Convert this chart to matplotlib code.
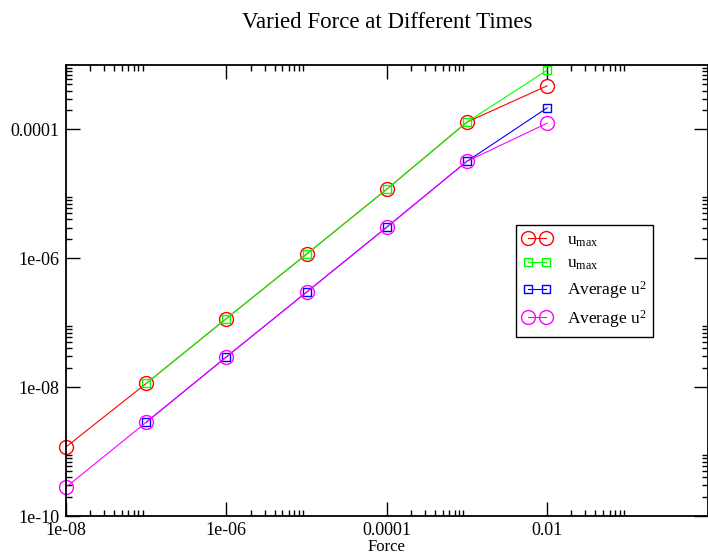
import matplotlib
matplotlib.use("Agg")
import matplotlib.pyplot as plt

plt.rcParams['font.family'] = ['Liberation Serif', 'DejaVu Serif']
plt.rcParams['mathtext.fontset'] = 'custom'
plt.rcParams['mathtext.rm'] = 'Liberation Serif'

# -- datos --
force = [1e-8, 1e-7, 1e-6, 1e-5, 1e-4, 1e-3, 1e-2]
force_b = [1e-7, 1e-6, 1e-5, 1e-4, 1e-3, 1e-2]
umax_a = [1.18e-9, 1.14e-8, 1.16e-7, 1.16e-6, 1.18e-5, 1.3e-4, 4.75e-4]
umax_b = [1.14e-8, 1.16e-7, 1.16e-6, 1.18e-5, 1.3e-4, 8.3e-4]
avg_b = [2.85e-9, 2.95e-8, 2.98e-7, 3.04e-6, 3.2e-5, 2.16e-4]
avg_a = [2.8e-10, 2.85e-9, 2.95e-8, 2.98e-7, 3.04e-6, 3.2e-5, 1.25e-4]

xticks = [1e-8, 1e-6, 1e-4, 1e-2]
xlabels = ['1e-08', '1e-06', '0.0001', '0.01']
yticks = [1e-10, 1e-8, 1e-6, 1e-4]
ylabels = ['1e-10', '1e-08', '1e-06', '0.0001']

fig = plt.figure(figsize=(7.08, 5.6), dpi=100)
ax = fig.add_axes([66/708, 44/560, 641.5/708, 451/560])

ax.plot(force, umax_a, '-o', color='#ff0000', lw=0.8, ms=10, mfc='none', mew=1.0,
        clip_on=False, label=r'$\mathregular{u_{max}}$')
ax.plot(force_b, umax_b, '-s', color='#00ff00', lw=0.8, ms=6, mfc='none', mew=1.0,
        clip_on=False, label=r'$\mathregular{u_{max}}$')
ax.plot(force_b, avg_b, '-s', color='#0000ff', lw=0.8, ms=6, mfc='none', mew=1.0,
        clip_on=False, label=r'Average $\mathregular{u^2}$')
ax.plot(force, avg_a, '-o', color='#ff00ff', lw=0.8, ms=10, mfc='none', mew=1.0,
        clip_on=False, label=r'Average $\mathregular{u^2}$')

ax.set_xscale('log')
ax.set_yscale('log')
ax.set_xlim(1e-8, 1)
ax.set_ylim(1e-10, 1e-3)

# ticks estilo grace: menores solo en la primera decada de cada mayor
ax.set_xticks(xticks, xlabels)
ax.set_xticks([k * t for t in xticks for k in range(2, 10)], minor=True)
ax.set_yticks(yticks, ylabels)
ax.set_yticks([k * t for t in yticks for k in range(2, 10)], minor=True)
ax.xaxis.set_minor_formatter(matplotlib.ticker.NullFormatter())
ax.yaxis.set_minor_formatter(matplotlib.ticker.NullFormatter())
ax.tick_params(which='both', direction='in', top=True, right=True, labelsize=13)
ax.tick_params(axis='x', pad=4)
ax.tick_params(axis='y', pad=4.5)
ax.tick_params(which='major', length=10, width=1.0)
ax.tick_params(which='minor', length=4.5, width=1.0)
for s in ax.spines.values():
    s.set_linewidth(1.3)

ax.set_xlabel('Force', fontsize=12, labelpad=0)
ax.set_title('Varied Force at Different Times', fontsize=16.5, pad=27)

leg = ax.legend(loc='upper left', bbox_to_anchor=(0.702, 0.645), numpoints=2,
                fontsize=12.5, handlelength=1.6, handletextpad=0.9,
                fancybox=False, edgecolor='black', framealpha=1,
                borderpad=0.4, labelspacing=0.4, borderaxespad=0)
leg.get_frame().set_linewidth(1.0)

fig.savefig('out.png', dpi=100)
